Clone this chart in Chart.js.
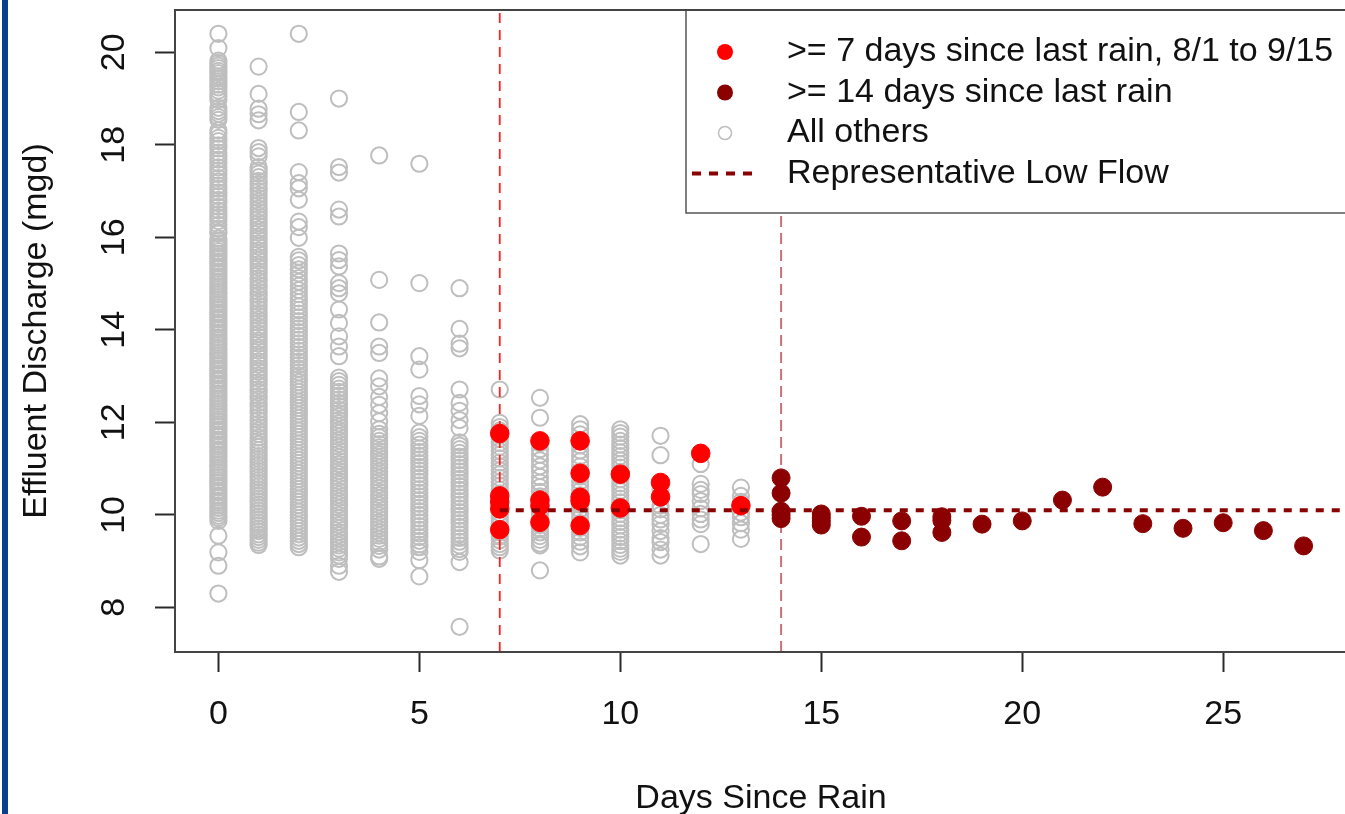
<!DOCTYPE html>
<html>
<head>
<meta charset="utf-8">
<script src="https://cdn.jsdelivr.net/npm/chart.js@4.4.1/dist/chart.umd.min.js"></script>
<style>
  html, body { margin: 0; padding: 0; overflow: hidden; background: #fff; }
  #wrap { position: relative; width: 1349px; height: 814px; }
  #edge { position: absolute; left: 2px; top: 0; width: 6px; height: 814px; background: #0d3d8e; }
</style>
</head>
<body>
<div id="wrap">
  <canvas id="flowChart" width="1349" height="814"></canvas>
  <div id="edge"></div>
</div>
<script>
// axis setup
const xTicks = [0, 5, 10, 15, 20, 25];
const yTicks = [8, 10, 12, 14, 16, 18, 20];
const xRange = [-1.08, 28.08];
const yRange = [7.036, 20.914];
const lowFlow = 10.1;
const cutoffDays = [7, 14];
const legendLabels = [
    '>= 7 days since last rain, 8/1 to 9/15',
    '>= 14 days since last rain',
    'All others',
    'Representative Low Flow'
];

// >= 7 days since rain, 8/1 to 9/15
const dry7Days = [7, 7, 7, 7, 7, 8, 8, 8, 8, 9, 9, 9, 9, 9, 10, 10, 11, 11, 12, 13];
const dry7Flow = [11.76, 10.41, 10.28, 10.13, 9.68, 11.60, 10.32, 10.20, 9.84, 11.60, 10.90, 10.38, 10.30, 9.77, 10.88, 10.15, 10.70, 10.39, 11.33, 10.20];

// >= 14 days since rain
const dry14Days = [14, 14, 14, 14, 14, 15, 15, 15, 15, 16, 16, 17, 17, 18, 18, 18, 19, 20, 21, 22, 23, 24, 25, 26, 27];
const dry14Flow = [10.80, 10.47, 10.08, 10.00, 9.92, 10.02, 9.94, 9.86, 9.78, 9.97, 9.52, 9.87, 9.44, 9.96, 9.88, 9.62, 9.80, 9.87, 10.32, 10.60, 9.81, 9.71, 9.83, 9.66, 9.33];

// all other days, one list per "days since rain"
const othersDay0 = [20.40, 20.09, 19.82, 19.77, 19.71, 19.66, 19.60, 19.55, 19.48, 19.43, 19.37, 19.30, 19.24, 19.17, 19.10, 19.04, 18.97,
    18.80, 18.73, 18.67, 18.60, 18.54, 18.31, 18.24, 18.15, 18.08, 17.99, 17.92, 17.83, 17.76, 17.68, 17.60, 17.51, 17.44, 17.37, 17.28,
    17.21, 17.12, 17.05, 16.97, 16.89, 16.81, 16.74, 16.66, 16.58, 16.50, 16.43, 16.35, 16.27, 16.19, 16.12, 16.08, 15.97, 15.92, 15.87,
    15.81, 15.76, 15.70, 15.65, 15.59, 15.54, 15.48, 15.43, 15.37, 15.32, 15.26, 15.21, 15.15, 15.10, 15.04, 14.99, 14.93, 14.88, 14.82,
    14.77, 14.71, 14.66, 14.60, 14.55, 14.49, 14.44, 14.38, 14.33, 14.27, 14.22, 14.16, 14.11, 14.05, 14.00, 13.94, 13.89, 13.83, 13.78,
    13.72, 13.67, 13.61, 13.56, 13.50, 13.45, 13.39, 13.34, 13.28, 13.23, 13.17, 13.12, 13.06, 13.01, 12.95, 12.90, 12.84, 12.79, 12.73,
    12.68, 12.62, 12.57, 12.51, 12.46, 12.40, 12.35, 12.29, 12.24, 12.18, 12.13, 12.07, 12.02, 11.96, 11.91, 11.85, 11.80, 11.74, 11.69,
    11.63, 11.58, 11.52, 11.47, 11.41, 11.36, 11.30, 11.25, 11.19, 11.14, 11.08, 11.03, 10.97, 10.92, 10.86, 10.81, 10.75, 10.70, 10.64,
    10.59, 10.53, 10.48, 10.42, 10.37, 10.31, 10.26, 10.20, 10.15, 10.09, 10.04, 9.98, 9.93, 9.87, 9.55, 9.19, 8.90, 8.30];
const othersDay1 = [19.69, 19.10, 18.78, 18.66, 18.53, 17.93, 17.84, 17.75, 17.52, 17.45, 17.38, 17.30, 17.22, 17.15, 17.07, 17.00, 16.92,
    16.85, 16.77, 16.70, 16.62, 16.55, 16.47, 16.40, 16.32, 16.25, 16.17, 16.10, 16.02, 15.95, 15.87, 15.80, 15.72, 15.65, 15.57, 15.50,
    15.42, 15.35, 15.27, 15.20, 15.12, 15.05, 14.97, 14.90, 14.82, 14.75, 14.67, 14.60, 14.52, 14.45, 14.37, 14.30, 14.22, 14.15, 14.07,
    14.00, 13.92, 13.85, 13.77, 13.70, 13.62, 13.55, 13.47, 13.40, 13.32, 13.25, 13.17, 13.10, 13.02, 12.95, 12.87, 12.80, 12.72, 12.65,
    12.57, 12.50, 12.42, 12.35, 12.27, 12.20, 12.12, 12.05, 11.97, 11.90, 11.82, 11.75, 11.67, 11.60, 11.53, 11.47, 11.40, 11.34, 11.27,
    11.21, 11.14, 11.08, 11.01, 10.95, 10.88, 10.82, 10.75, 10.69, 10.62, 10.56, 10.49, 10.43, 10.36, 10.30, 10.23, 10.17, 10.10, 10.04,
    9.97, 9.91, 9.84, 9.78, 9.71, 9.65, 9.58, 9.52, 9.46, 9.40, 9.35];
const othersDay2 = [20.40, 18.71, 18.31, 17.41, 17.17, 17.06, 16.81, 16.34, 16.22, 15.99, 15.58, 15.50, 15.40, 15.31, 15.22, 15.12, 15.04,
    14.95, 14.86, 14.77, 14.68, 14.60, 14.51, 14.43, 14.35, 14.27, 14.19, 14.11, 14.03, 13.95, 13.87, 13.79, 13.71, 13.63, 13.55, 13.47,
    13.40, 13.32, 13.24, 13.16, 13.08, 13.01, 12.94, 12.87, 12.80, 12.73, 12.66, 12.59, 12.52, 12.45, 12.38, 12.31, 12.24, 12.17, 12.10,
    12.03, 11.96, 11.89, 11.82, 11.75, 11.68, 11.61, 11.54, 11.47, 11.40, 11.33, 11.26, 11.19, 11.12, 11.05, 10.98, 10.91, 10.84, 10.77,
    10.70, 10.63, 10.56, 10.49, 10.42, 10.35, 10.28, 10.21, 10.14, 10.07, 10.00, 9.93, 9.86, 9.79, 9.72, 9.65, 9.58, 9.51, 9.44, 9.37, 9.30];
const othersDay3 = [19.00, 17.52, 17.40, 16.60, 16.45, 15.65, 15.51, 15.37, 15.01, 14.90, 14.79, 14.44, 14.15, 13.86, 13.64, 13.43, 12.97,
    12.89, 12.81, 12.73, 12.66, 12.58, 12.50, 12.42, 12.35, 12.27, 12.20, 12.13, 12.05, 11.98, 11.91, 11.83, 11.76, 11.69, 11.61, 11.54,
    11.47, 11.39, 11.32, 11.25, 11.17, 11.10, 11.03, 10.95, 10.88, 10.81, 10.73, 10.66, 10.59, 10.51, 10.44, 10.37, 10.29, 10.22, 10.15,
    10.07, 10.00, 9.93, 9.85, 9.78, 9.71, 9.63, 9.56, 9.49, 9.41, 9.34, 9.27, 9.19, 9.12, 9.05, 8.90, 8.77];
const othersDay4 = [17.77, 15.08, 14.16, 13.64, 13.50, 12.95, 12.78, 12.55, 12.38, 12.20, 12.02, 11.85, 11.75, 11.68, 11.60, 11.53, 11.46,
    11.38, 11.31, 11.24, 11.16, 11.09, 11.02, 10.94, 10.87, 10.80, 10.72, 10.65, 10.58, 10.50, 10.43, 10.36, 10.28, 10.21, 10.14, 10.06,
    9.99, 9.92, 9.84, 9.77, 9.70, 9.62, 9.55, 9.48, 9.40, 9.33, 9.25, 9.10, 9.05];
const othersDay5 = [17.59, 15.01, 13.43, 13.14, 12.57, 12.39, 12.14, 11.78, 11.68, 11.60, 11.52, 11.44, 11.36, 11.28, 11.20, 11.12, 11.04,
    10.96, 10.88, 10.80, 10.72, 10.64, 10.56, 10.48, 10.40, 10.32, 10.24, 10.16, 10.08, 10.00, 9.92, 9.84, 9.76, 9.68, 9.60, 9.52, 9.44,
    9.36, 9.30, 9.20, 9.02, 8.67];
const othersDay6 = [14.90, 14.02, 13.70, 13.60, 12.71, 12.42, 12.25, 12.05, 11.88, 11.57, 11.50, 11.42, 11.34, 11.26, 11.18, 11.10, 11.02,
    10.94, 10.86, 10.78, 10.70, 10.62, 10.54, 10.46, 10.38, 10.30, 10.22, 10.14, 10.06, 9.98, 9.90, 9.82, 9.74, 9.66, 9.58, 9.50, 9.42,
    9.34, 9.26, 9.20, 8.98, 7.58];
const othersDay7 = [12.71, 11.99, 11.90, 11.82, 11.72, 11.64, 11.55, 11.47, 11.38, 11.30, 11.22, 11.13, 11.05, 10.96, 10.88, 10.80, 10.71,
    10.63, 10.54, 10.46, 10.37, 10.29, 10.21, 10.12, 10.04, 9.95, 9.87, 9.79, 9.70, 9.62, 9.53, 9.45, 9.37, 9.30, 9.23];
const othersDay8 = [12.53, 12.10, 11.55, 11.42, 11.30, 11.18, 11.05, 10.95, 10.82, 10.70, 10.60, 10.50, 10.40, 10.30, 10.20, 10.11, 10.02,
    9.94, 9.86, 9.78, 9.70, 9.62, 9.54, 9.46, 9.38, 9.34, 8.80];
const othersDay9 = [11.96, 11.85, 11.74, 11.62, 11.50, 11.39, 11.27, 11.16, 11.05, 10.94, 10.83, 10.72, 10.62, 10.52, 10.42, 10.32, 10.22,
    10.12, 10.02, 9.92, 9.82, 9.72, 9.62, 9.52, 9.42, 9.32, 9.19];
const othersDay10 = [11.85, 11.77, 11.69, 11.60, 11.52, 11.44, 11.35, 11.27, 11.18, 11.10, 11.02, 10.93, 10.85, 10.77, 10.68, 10.60, 10.52,
    10.43, 10.35, 10.27, 10.18, 10.10, 10.02, 9.93, 9.85, 9.77, 9.68, 9.60, 9.52, 9.43, 9.35, 9.27, 9.20, 9.12];
const othersDay11 = [11.71, 11.29, 10.55, 10.20, 10.12, 10.00, 9.90, 9.80, 9.65, 9.50, 9.41, 9.25, 9.12];
const othersDay12 = [11.10, 10.67, 10.54, 10.45, 10.30, 10.14, 10.02, 9.90, 9.80, 9.37];
const othersDay13 = [10.59, 10.41, 10.28, 10.05, 9.95, 9.82, 9.68, 9.48];

const othersByDay = [othersDay0, othersDay1, othersDay2, othersDay3, othersDay4, othersDay5, othersDay6,
    othersDay7, othersDay8, othersDay9, othersDay10, othersDay11, othersDay12, othersDay13];

const othersPts = [];
othersByDay.forEach(function(vals, day) {
    vals.forEach(function(v) { othersPts.push({x: day, y: v}); });
});
const dry7Pts = dry7Days.map(function(d, i) { return {x: d, y: dry7Flow[i]}; });
const dry14Pts = dry14Days.map(function(d, i) { return {x: d, y: dry14Flow[i]}; });

const FONT = 'Liberation Sans, Arial, Helvetica, sans-serif';
Chart.defaults.font.family = FONT;
Chart.defaults.color = '#111';

// legend box + plot frame, R style
const frameAndLegend = {
    id: 'frameAndLegend',
    afterDraw: function(chart) {
        const ctx = chart.ctx;
        const area = chart.chartArea;
        const ds = chart.data.datasets;
        const left = 686, bottom = 213, rowH = 40.5;
        ctx.save();
        ctx.fillStyle = '#fff';
        ctx.fillRect(left, area.top, chart.width - left + 10, bottom - area.top);
        ctx.strokeStyle = '#555';
        ctx.lineWidth = 1.5;
        ctx.strokeRect(left, area.top, chart.width - left + 10, bottom - area.top);

        const symX = 725, textX = 787;
        ctx.font = '34px ' + FONT;
        ctx.textBaseline = 'middle';
        ctx.textAlign = 'left';
        legendLabels.forEach(function(lbl, i) {
            const y = area.top + 42 + i * rowH;
            if (i === 0 || i === 1) {
                ctx.beginPath();
                ctx.arc(symX, y, 8, 0, Math.PI * 2);
                ctx.fillStyle = i === 0 ? ds[2].backgroundColor : ds[1].backgroundColor;
                ctx.fill();
            } else if (i === 2) {
                ctx.beginPath();
                ctx.arc(symX, y, 6.5, 0, Math.PI * 2);
                ctx.strokeStyle = ds[5].borderColor;
                ctx.lineWidth = 1.5;
                ctx.stroke();
            } else {
                ctx.beginPath();
                ctx.setLineDash([9, 8]);
                ctx.moveTo(692, y);
                ctx.lineTo(758, y);
                ctx.strokeStyle = ds[0].borderColor;
                ctx.lineWidth = 4;
                ctx.stroke();
                ctx.setLineDash([]);
            }
            ctx.fillStyle = '#111';
            ctx.fillText(lbl, textX, y);
        });

        ctx.strokeStyle = '#444';
        ctx.lineWidth = 2;
        ctx.strokeRect(area.left, area.top, area.right - area.left, area.bottom - area.top);
        ctx.restore();
    }
};

const ctx = document.getElementById('flowChart').getContext('2d');

new Chart(ctx, {
    type: 'scatter',
    data: {
        datasets: [
            {
                label: legendLabels[3],
                data: [{x: cutoffDays[0], y: lowFlow}, {x: xRange[1], y: lowFlow}],
                showLine: true,
                borderColor: '#8b0000',
                borderWidth: 4,
                borderDash: [8, 8],
                borderCapStyle: 'butt',
                pointRadius: 0
            },
            {
                label: legendLabels[1],
                data: dry14Pts,
                backgroundColor: '#8b0000',
                borderColor: '#8b0000',
                borderWidth: 1,
                pointRadius: 9
            },
            {
                label: legendLabels[0],
                data: dry7Pts,
                backgroundColor: '#ff0000',
                borderColor: '#ff0000',
                borderWidth: 1,
                pointRadius: 9.3
            },
            {
                label: 'cutoff 7',
                data: [{x: cutoffDays[0], y: yRange[0]}, {x: cutoffDays[0], y: yRange[1]}],
                showLine: true,
                borderColor: '#ff2020',
                borderWidth: 1.8,
                borderDash: [10, 7],
                pointRadius: 0
            },
            {
                label: 'cutoff 14',
                data: [{x: cutoffDays[1], y: yRange[0]}, {x: cutoffDays[1], y: yRange[1]}],
                showLine: true,
                borderColor: 'rgba(160, 20, 30, 0.6)',
                borderWidth: 2,
                borderDash: [11, 6],
                pointRadius: 0
            },
            {
                label: legendLabels[2],
                data: othersPts,
                backgroundColor: 'rgba(0,0,0,0)',
                borderColor: '#bebebe',
                borderWidth: 2,
                pointRadius: 8.1
            }
        ]
    },
    options: {
        responsive: false,
        devicePixelRatio: 1,
        animation: false,
        events: [],
        layout: { autoPadding: false, padding: { top: 10, right: 2, left: 0, bottom: 0 } },
        plugins: {
            legend: { display: false },
            tooltip: { enabled: false }
        },
        scales: {
            x: {
                type: 'linear',
                min: xRange[0],
                max: xRange[1],
                afterBuildTicks: function(s) { s.ticks = xTicks.map(function(v) { return {value: v}; }); },
                afterFit: function(s) { s.height = 162; s.paddingLeft = 0; s.paddingRight = 0; },
                border: { display: false },
                grid: { drawOnChartArea: false, drawTicks: true, tickLength: 20, tickColor: '#2a2a2a', tickWidth: 2 },
                ticks: { font: { size: 34 }, color: '#111', padding: 22, autoSkip: false, maxRotation: 0 },
                title: { display: true, text: 'Days Since Rain', font: { size: 34 }, color: '#111', padding: { top: 0, bottom: -5 } }
            },
            y: {
                type: 'linear',
                min: yRange[0],
                max: yRange[1],
                afterBuildTicks: function(s) { s.ticks = yTicks.map(function(v) { return {value: v}; }); },
                afterFit: function(s) { s.width = 175; s.paddingTop = 0; s.paddingBottom = 0; },
                border: { display: false },
                grid: { drawOnChartArea: false, drawTicks: true, tickLength: 20, tickColor: '#2a2a2a', tickWidth: 2 },
                ticks: { font: { size: 34 }, color: '#111', padding: 21, autoSkip: false, minRotation: 90, maxRotation: 90, crossAlign: 'center' },
                title: { display: true, text: 'Effluent Discharge (mgd)', font: { size: 34 }, color: '#111', padding: { top: 16, bottom: 0 } }
            }
        }
    },
    plugins: [frameAndLegend]
});
</script>
</body>
</html>
